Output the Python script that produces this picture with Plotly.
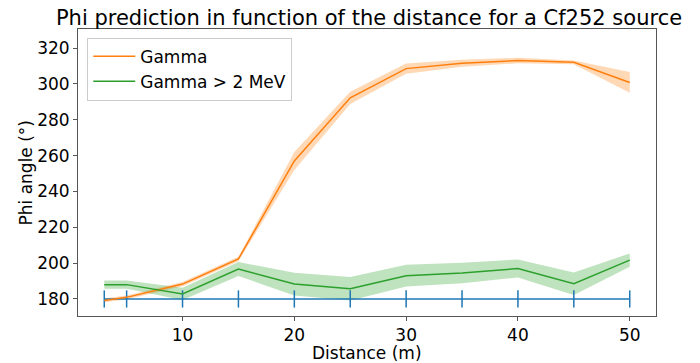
import plotly.graph_objects as go

distance = [3, 5, 10, 15, 20, 25, 30, 35, 40, 45, 50]
gamma = [179.2, 180.9, 188.3, 202.3, 257.0, 292.2, 308.5, 311.5, 313.0, 312.0, 300.8]
gamma_err = [1.0, 1.0, 1.2, 1.2, 5.0, 3.4, 2.8, 2.0, 1.5, 1.0, 5.8]
gamma2 = [188.0, 188.0, 182.8, 196.7, 188.3, 185.7, 193.0, 194.5, 197.0, 188.5, 201.7]
gamma2_err = [2.3, 2.3, 3.4, 3.9, 6.3, 6.5, 6.1, 5.7, 5.0, 6.3, 3.7]
truth = [180] * len(distance)
truth_err = [4.8] * len(distance)

x_ticks = [10, 20, 30, 40, 50]
y_ticks = [180, 200, 220, 240, 260, 280, 300, 320]

ORANGE = "#ff7f0e"
GREEN = "#2ca02c"
BLUE = "#1f77b4"
FONT = "DejaVu Sans"

# page body has an 8px margin, so the figure is drawn from (8, 8)
W, H = 692, 355
ML, MR, MT, MB = 70, 44, 21, 47


def band(x, y, e, color):
    up = [a + b for a, b in zip(y, e)]
    lo = [a - b for a, b in zip(y, e)]
    return go.Scatter(
        x=list(x) + list(x)[::-1],
        y=up + lo[::-1],
        fill="toself",
        fillcolor=color,
        line=dict(width=0),
        mode="lines",
        showlegend=False,
        hoverinfo="skip",
    )


fig = go.Figure()
fig.add_trace(band(distance, gamma, gamma_err, "rgba(255,127,14,0.3)"))
fig.add_trace(band(distance, gamma2, gamma2_err, "rgba(44,160,44,0.3)"))
fig.add_trace(go.Scatter(
    x=distance, y=truth, mode="lines",
    line=dict(color=BLUE, width=1.5),
    error_y=dict(type="data", array=truth_err, visible=True,
                 color=BLUE, thickness=1.5, width=0),
    showlegend=False,
))
fig.add_trace(go.Scatter(x=distance, y=gamma, mode="lines", name="Gamma",
                         line=dict(color=ORANGE, width=1.5)))
fig.add_trace(go.Scatter(x=distance, y=gamma2, mode="lines", name="Gamma > 2 MeV",
                         line=dict(color=GREEN, width=1.5)))

axis_common = dict(
    showgrid=False, zeroline=False, automargin=False,
    showline=True, mirror=True, linecolor="#555", linewidth=1,
    ticks="outside", ticklen=4, tickcolor="#555", tickwidth=1,
    tickfont=dict(family=FONT, size=17, color="black"),
)

fig.update_layout(
    width=W, height=H,
    paper_bgcolor="white", plot_bgcolor="white",
    margin=dict(l=ML, r=MR, t=MT, b=MB, pad=0),
    title=dict(
        text="Phi prediction in function of the distance for a Cf252 source",
        font=dict(family=FONT, size=21, color="black"),
        x=0.5217, xanchor="center", y=0.972, yanchor="middle",
        xref="container", yref="container",
    ),
    xaxis=dict(range=[0.65, 52.35], tickvals=x_ticks, **axis_common),
    yaxis=dict(range=[170.5, 330.6], tickvals=y_ticks, **axis_common),
    legend=dict(
        x=0.016, y=0.97, xanchor="left", yanchor="top",
        bgcolor="rgba(255,255,255,0.8)", bordercolor="#ccc", borderwidth=1,
        font=dict(family=FONT, size=17, color="black"),
        itemwidth=42,
    ),
    annotations=[
        dict(text="Distance (m)", xref="paper", yref="paper", x=0.5, y=0,
             xanchor="center", yanchor="middle", yshift=-37, showarrow=False,
             font=dict(family=FONT, size=17, color="black")),
        dict(text="Phi angle (°)", xref="paper", yref="paper", x=0, y=0.5,
             xanchor="center", yanchor="middle", xshift=-53, textangle=-90,
             showarrow=False, font=dict(family=FONT, size=17, color="black")),
    ],
)

fig.write_html("out.html")
